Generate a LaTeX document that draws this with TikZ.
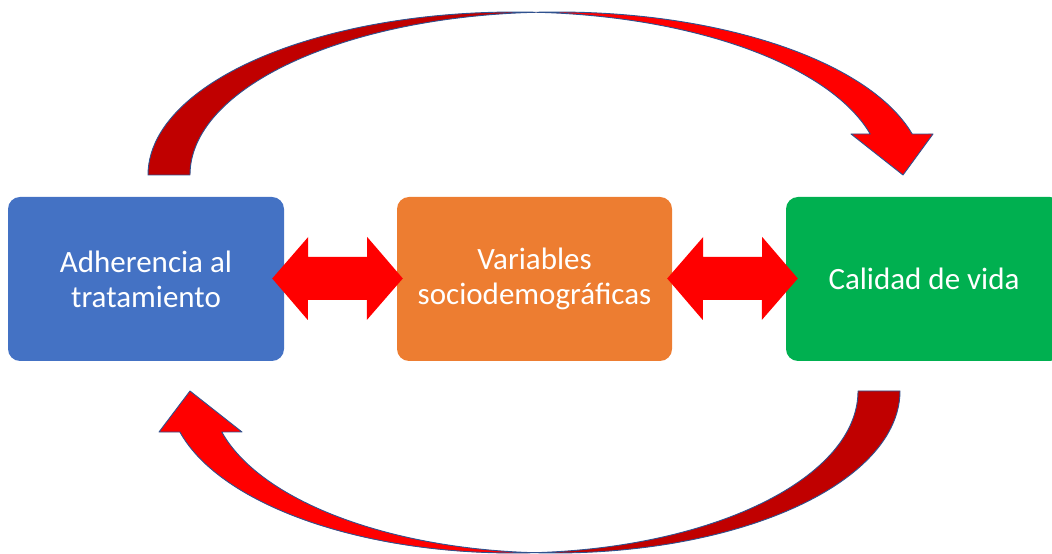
\documentclass[tikz,border=0pt]{standalone}
\usepackage{fontspec}
\setmainfont{Carlito}
\usetikzlibrary{calc}
\definecolor{boxblue}{HTML}{4472C4}
\definecolor{boxorange}{HTML}{ED7D31}
\definecolor{boxgreen}{HTML}{00B050}
\definecolor{darkred}{HTML}{C00000}
\definecolor{brightred}{HTML}{FF0000}
\definecolor{edgeblue}{HTML}{2F528F}
\begin{document}
\begin{tikzpicture}[x=1pt,y=1pt,
  box/.style={rounded corners=12pt, minimum height=164pt, inner sep=0pt, text=white,
    align=center, font=\fontsize{31}{35}\selectfont},
  dbl/.style={fill=brightred, draw=none},
  back/.style={fill=darkred, draw=none},
  front/.style={fill=brightred, draw=none},
  rim/.style={draw=edgeblue, line width=0.9pt, line join=round}]
\useasboundingbox (0,0) rectangle (1052,554);
\clip (0,0) rectangle (1052,554);
% boxes
\node[box, fill=boxblue, minimum width=276pt] (adh) at (146,275) {Adherencia al\\tratamiento};
\node[box, fill=boxorange, minimum width=275pt] (var) at (534.5,275) {Variables\\sociodemográficas};
\node[box, fill=boxgreen, minimum width=276pt] (cal) at (924,275) {Calidad de vida};
% double arrows
\fill[dbl] ($(adh.east)+(-12,0.5)$) -- ++(36,41.5) -- ++(0,-20) -- ++(59,0) -- ++(0,20)
  -- ($(var.west)+(6,0.5)$) -- ++(-36,-41.5) -- ++(0,20) -- ++(-59,0) -- ++(0,-20) -- cycle;
\fill[dbl] ($(var.east)+(-5,0.5)$) -- ++(36,41.5) -- ++(0,-20) -- ++(59,0) -- ++(0,20)
  -- ($(cal.west)+(12,0.5)$) -- ++(-36,-41.5) -- ++(0,20) -- ++(-59,0) -- ++(0,-20) -- cycle;
% top curved arrow (from adh to cal)
\coordinate (tA) at (148,379);
\coordinate (tX) at (536,541.7);
\fill[back] (tA) arc[start angle=180, end angle=86.72, x radius=367, y radius=163]
  arc[start angle=93.28, end angle=180, x radius=367, y radius=163] -- cycle;
\fill[front] (tX) arc[start angle=93.28, end angle=14.57, x radius=367, y radius=163]
  -- (933,420) -- (903,379) -- (851,420) -- (870.2,420)
  arc[start angle=14.57, end angle=86.72, x radius=367, y radius=163] -- cycle;
\draw[rim] (tA) arc[start angle=180, end angle=86.72, x radius=367, y radius=163]
  arc[start angle=93.28, end angle=14.57, x radius=367, y radius=163]
  -- (933,420) -- (903,379) -- (851,420) -- (870.2,420)
  arc[start angle=14.57, end angle=86.72, x radius=367, y radius=163]
  arc[start angle=93.28, end angle=180, x radius=367, y radius=163] -- cycle;
% bottom curved arrow (from cal to adh)
\coordinate (bA) at (900,163);
\coordinate (bX) at (534.3,1.15);
\fill[back] (bA) arc[start angle=360, end angle=266.51, x radius=344.7, y radius=162]
  arc[start angle=273.49, end angle=360, x radius=344.7, y radius=162] -- cycle;
\fill[front] (bX) arc[start angle=273.49, end angle=194.66, x radius=344.7, y radius=162]
  -- (159,122) -- (190,163) -- (242,122) -- (221.8,122)
  arc[start angle=194.66, end angle=266.51, x radius=344.7, y radius=162] -- cycle;
\draw[rim] (bA) arc[start angle=360, end angle=266.51, x radius=344.7, y radius=162]
  arc[start angle=273.49, end angle=194.66, x radius=344.7, y radius=162]
  -- (159,122) -- (190,163) -- (242,122) -- (221.8,122)
  arc[start angle=194.66, end angle=266.51, x radius=344.7, y radius=162]
  arc[start angle=273.49, end angle=360, x radius=344.7, y radius=162] -- cycle;
\end{tikzpicture}
\end{document}
